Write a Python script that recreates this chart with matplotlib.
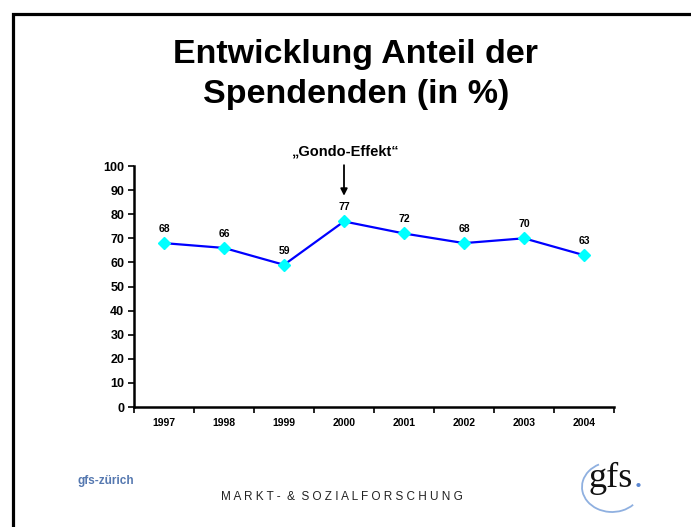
import matplotlib
matplotlib.use("Agg")
import matplotlib.pyplot as plt
from matplotlib.patches import Arc
from matplotlib.lines import Line2D

years = ["1997", "1998", "1999", "2000", "2001", "2002", "2003", "2004"]
shares = [68, 66, 59, 77, 72, 68, 70, 63]
y_ticks = [0, 10, 20, 30, 40, 50, 60, 70, 80, 90, 100]

plt.rcParams['font.family'] = ['Liberation Sans', 'DejaVu Sans']

W, H = 691, 527
fig = plt.figure(figsize=(W / 100, H / 100), dpi=100)
fig.patch.set_facecolor("white")

# overlay in pixel coordinates for slide decorations
ov = fig.add_axes([0, 0, 1, 1])
ov.set_xlim(0, W)
ov.set_ylim(H, 0)
ov.axis("off")

# slide frame (left and top edges)
ov.add_line(Line2D([13.5, 13.5, W], [H, 13.5, 13.5], color="black", lw=2.3,
                   solid_joinstyle="miter"))

# title
ov.text(356, 63, "Entwicklung Anteil der", ha="center", va="baseline",
        fontsize=24.5, fontweight="bold")
ov.text(356, 103, "Spendenden (in %)", ha="center", va="baseline",
        fontsize=24.5, fontweight="bold")

ax = fig.add_axes([134 / W, 1 - 407 / H, 480 / W, 241 / H])
x = list(range(len(years)))
ax.plot(x, shares, color="#0000FF", lw=1.6, marker="D", markersize=6.5,
        markerfacecolor="#00FFFF", markeredgecolor="#00FFFF", zorder=3, clip_on=False)
for xi, v in zip(x, shares):
    ax.annotate(str(v), (xi, v), xytext=(0, 8), textcoords="offset points",
                ha="center", va="baseline", fontsize=7.5, fontweight="bold")

ax.set_xlim(-0.5, len(years) - 0.5)
ax.set_ylim(0, 100)
ax.set_yticks(y_ticks)
ax.set_yticklabels([str(t) for t in y_ticks], fontsize=9, fontweight="bold")
ax.set_xticks([i - 0.5 for i in range(len(years) + 1)])
ax.set_xticklabels([])
ax.set_xticks(x, minor=True)
ax.set_xticklabels(years, minor=True, fontsize=7.5, fontweight="bold")
ax.tick_params(axis="x", which="minor", length=0, pad=8)
ax.tick_params(axis="x", which="major", length=4, width=1.2, direction="out")
ax.tick_params(axis="y", length=4, width=1.2, direction="out", pad=3)
for s in ["top", "right"]:
    ax.spines[s].set_visible(False)
for s in ["left", "bottom"]:
    ax.spines[s].set_linewidth(1.8)

# Gondo annotation
ax.annotate("", xy=(3, 86.5), xytext=(3, 101.5),
            arrowprops=dict(arrowstyle="-|>", color="black", lw=1.3, mutation_scale=10),
            annotation_clip=False)
ov.text(346, 156, "\u201eGondo-Effekt\u201c", ha="center", va="baseline",
        fontsize=10.5, fontweight="bold")

# footer
ov.text(78, 484, "gfs-zürich", ha="left", va="baseline",
        fontsize=8.5, fontweight="bold", color="#5578b0")
ov.text(342, 500, "M A R K T -  &  S O Z I A L F O R S C H U N G",
        ha="center", va="baseline", fontsize=8.5, color="#222222")

# logo
ov.text(589, 487, "gfs", ha="left", va="baseline", fontsize=26,
        family="Liberation Serif", color="#111111")
ov.text(634, 487, ".", ha="left", va="baseline", fontsize=26,
        family="Liberation Serif", color="#5a86d0")
ov.add_patch(Arc((612, 487), 60, 50, theta1=40, theta2=240, color="#8fb0e0", lw=1.3))

fig.savefig("out.png", dpi=100, facecolor="white")
